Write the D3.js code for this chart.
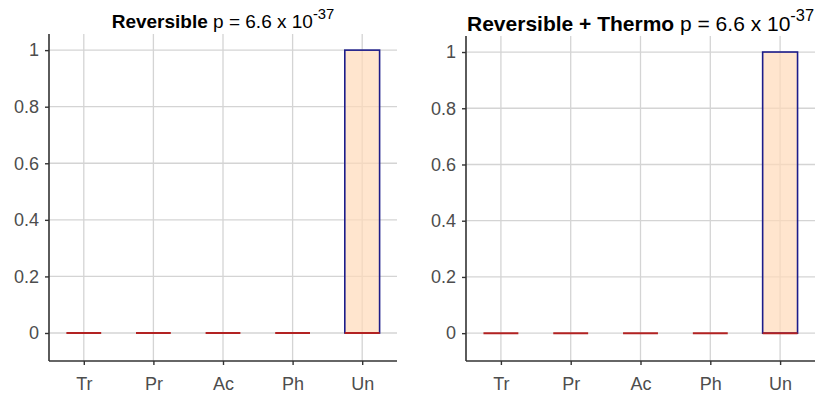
<!DOCTYPE html>
<html>
<head>
<meta charset="utf-8">
<script src="https://cdn.jsdelivr.net/npm/d3@7"></script>
<style>
  body { margin: 0; background: #fff; }
  svg { font-family: "Liberation Sans", Arial, sans-serif; }
</style>
</head>
<body>
<script>
// chart data
const categories = ["Tr", "Pr", "Ac", "Ph", "Un"];
const reversibleValues = [0, 0, 0, 0, 1];
const thermoValues = [0, 0, 0, 0, 1];
const yTicks = [0, 0.2, 0.4, 0.6, 0.8, 1];
const panelTitles = ["Reversible", "Reversible + Thermo"];
const pText = " p = 6.6 x 10";
const pExp = "-37";

const svg = d3.select("body").append("svg")
  .attr("width", 820)
  .attr("height", 398);

function drawPanel(values, title, left, right, top, bottom, titleSize, titleY) {
  const g = svg.append("g");

  let x = d3.scalePoint().domain(categories).range([left, right]).padding(0.5);
  let y = d3.scaleLinear().domain([-0.099, 1.057]).range([bottom, top]);
  const barW = x.step() * 0.5;

  // grid
  g.selectAll(".hgrid").data(yTicks).enter().append("line")
    .attr("x1", left).attr("x2", right)
    .attr("y1", d => y(d)).attr("y2", d => y(d))
    .attr("stroke", "#d4d4d4").attr("stroke-width", 1.3);
  g.selectAll(".vgrid").data(categories).enter().append("line")
    .attr("x1", d => x(d)).attr("x2", d => x(d))
    .attr("y1", top).attr("y2", bottom)
    .attr("stroke", "#d4d4d4").attr("stroke-width", 1.3);

  // bars
  g.selectAll(".bar").data(values).enter().append("rect")
    .attr("x", (d, i) => x(categories[i]) - barW / 2)
    .attr("y", d => y(d))
    .attr("width", barW)
    .attr("height", d => y(0) - y(d))
    .attr("fill", "#ffdab9").attr("fill-opacity", 0.7)
    .attr("stroke", "#1c1c8a").attr("stroke-width", 1.6);

  // zero lines
  g.selectAll(".zero").data(values).enter().append("line")
    .attr("x1", (d, i) => x(categories[i]) - barW / 2)
    .attr("x2", (d, i) => x(categories[i]) + barW / 2)
    .attr("y1", y(0)).attr("y2", y(0))
    .attr("stroke", "#b22222").attr("stroke-width", 2);

  // axes
  const yAxis = g.append("g")
    .attr("transform", `translate(${left},0)`)
    .call(d3.axisLeft(y).tickValues(yTicks).tickFormat(d3.format("~g")).tickSize(4).tickPadding(6));
  const xAxis = g.append("g")
    .attr("transform", `translate(0,${bottom})`)
    .call(d3.axisBottom(x).tickSize(4).tickPadding(12));
  [yAxis, xAxis].forEach(a => {
    a.attr("font-family", null).attr("font-size", null);
    a.select(".domain").attr("stroke", "#333").attr("stroke-width", 1.6);
    a.selectAll(".tick line").attr("stroke", "#333").attr("stroke-width", 1.4);
    a.selectAll(".tick text").attr("fill", "#4d4d4d").style("font-size", "18px");
  });
  xAxis.select(".domain").attr("d", `M${left},0H${right}`);
  yAxis.select(".domain").attr("d", `M0,${top}V${bottom}`);

  // title
  const t = g.append("text")
    .attr("x", (left + right) / 2).attr("y", titleY)
    .attr("text-anchor", "middle")
    .style("font-size", titleSize + "px").attr("fill", "#000");
  t.append("tspan").attr("font-weight", "bold").text(title);
  t.append("tspan").text(pText);
  t.append("tspan").attr("dy", -titleSize * 0.48)
    .style("font-size", (titleSize * 0.78) + "px").text(pExp);
}

drawPanel(reversibleValues, panelTitles[0], 49, 397, 34, 361, 19, 28);
drawPanel(thermoValues, panelTitles[1], 466, 815, 36, 361, 21, 31);
</script>
</body>
</html>
